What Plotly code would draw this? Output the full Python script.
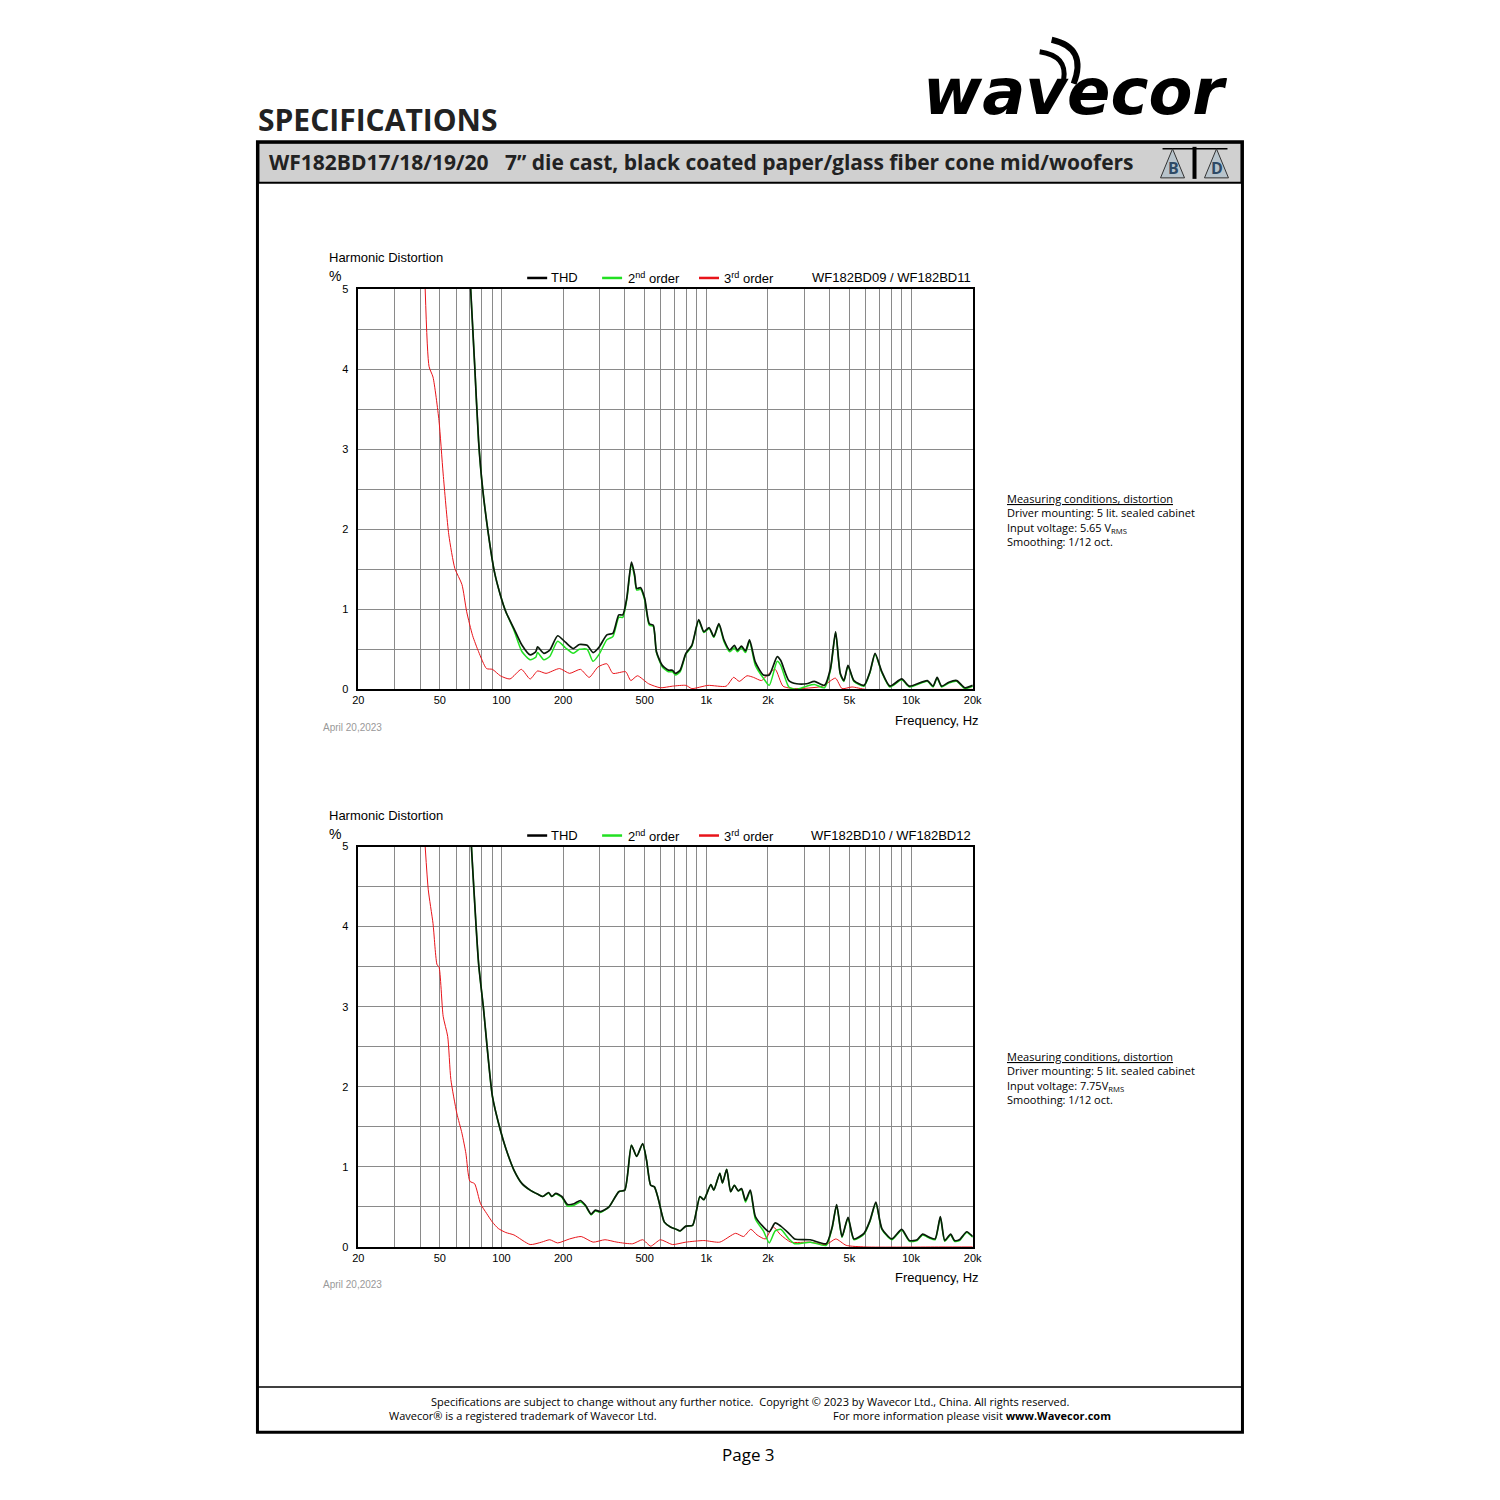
import plotly.graph_objects as go

# ---- top chart (WF182BD09 / WF182BD11, 5.65 Vrms) ----
f_thd1 = [70.7, 73.9, 77.3, 80.8, 86.4, 92.3, 98.7, 105, 115, 126, 138, 147, 150, 161, 172, 188, 205, 224,
          240, 262, 280, 300, 327, 350, 374, 391, 409, 431, 447, 457, 478, 500, 527, 551, 571, 610, 653,
          683, 707, 745, 795, 850, 918, 973, 1033, 1088, 1152, 1219, 1302, 1371, 1420, 1486, 1555, 1626,
          1736, 1900, 2030, 2220, 2310, 2530, 2760, 3090, 3370, 3780, 4040, 4280, 4510, 4700, 4920, 5260,
          5890, 6300, 6670, 7200, 7880, 9000, 9820, 12000, 12800, 13400, 14100, 15300, 16700, 18300, 20000]
thd1 = [5.0, 4.07, 3.1, 2.52, 1.93, 1.47, 1.18, 0.97, 0.76, 0.55, 0.43, 0.47, 0.53, 0.45, 0.49, 0.67, 0.59, 0.51,
        0.56, 0.55, 0.46, 0.53, 0.68, 0.70, 0.93, 0.93, 1.14, 1.59, 1.43, 1.26, 1.27, 1.14, 0.82, 0.80, 0.47, 0.30, 0.24,
        0.24, 0.20, 0.24, 0.45, 0.55, 0.87, 0.72, 0.77, 0.66, 0.82, 0.62, 0.49, 0.55, 0.49, 0.54, 0.48, 0.62,
        0.34, 0.18, 0.18, 0.41, 0.36, 0.11, 0.07, 0.07, 0.10, 0.05, 0.26, 0.72, 0.20, 0.11, 0.30, 0.11,
        0.05, 0.22, 0.45, 0.22, 0.04, 0.13, 0.04, 0.11, 0.04, 0.15, 0.04, 0.09, 0.11, 0.02, 0.05]
h2_1 = [5.0, 4.07, 3.1, 2.52, 1.93, 1.47, 1.18, 0.97, 0.74, 0.47, 0.37, 0.40, 0.46, 0.37, 0.41, 0.60, 0.52, 0.45,
        0.50, 0.50, 0.35, 0.44, 0.62, 0.66, 0.90, 0.90, 1.12, 1.57, 1.40, 1.24, 1.25, 1.12, 0.80, 0.79, 0.46, 0.28, 0.22,
        0.22, 0.18, 0.22, 0.44, 0.54, 0.86, 0.71, 0.76, 0.65, 0.81, 0.60, 0.47, 0.52, 0.47, 0.52, 0.46, 0.60,
        0.30, 0.14, 0.05, 0.35, 0.30, 0.03, 0.00, 0.04, 0.06, 0.02, 0.24, 0.71, 0.19, 0.10, 0.29, 0.10,
        0.04, 0.21, 0.44, 0.21, 0.03, 0.12, 0.03, 0.10, 0.03, 0.14, 0.03, 0.08, 0.10, 0.01, 0.04]
f_h3_1 = [42.4, 44.3, 46.3, 49.5, 51.9, 55.3, 59.2, 64.1, 67.6, 72.3, 77.3, 84.5, 90.3, 98.7, 110, 125, 138, 150,
          165, 192, 215, 243, 268, 296, 327, 350, 404, 428, 461, 523, 597, 683, 795, 850, 1019, 1250, 1360,
          1450, 1580, 1700, 1860, 1990, 2170, 2370, 2700, 3700, 4270, 4600, 5150, 6000, 13400, 20000]
h3_1 = [5.0, 4.03, 3.90, 3.36, 2.69, 1.93, 1.51, 1.31, 0.97, 0.67, 0.47, 0.26, 0.25, 0.17, 0.13, 0.25, 0.13, 0.23,
        0.20, 0.26, 0.20, 0.25, 0.15, 0.28, 0.32, 0.20, 0.22, 0.11, 0.17, 0.07, 0.02, 0.04, 0.05, 0.01, 0.05, 0.04, 0.15,
        0.10, 0.17, 0.15, 0.11, 0.18, 0.25, 0.04, 0.01, 0.04, 0.14, 0.01, 0.03, 0.0, 0.0, 0.0]

# ---- bottom chart (WF182BD10 / WF182BD12, 7.75 Vrms) ----
f_thd2 = [71.3, 77.3, 81.5, 90.3, 98.7, 105, 115, 126, 138, 150, 159, 170, 176, 184, 197, 210, 226, 243, 257,
          274, 287, 304, 335, 374, 400, 431, 457, 489, 511, 535, 558, 583, 624, 668, 714, 745, 795, 858, 931,
          973, 1052, 1088, 1164, 1200, 1258, 1315, 1371, 1433, 1486, 1555, 1640, 1736, 1900, 2030, 2170, 2310,
          2530, 2700, 3220, 3850, 4120, 4330, 4600, 4920, 5260, 5890, 6300, 6730, 7200, 8050, 9000, 9820,
          10700, 11380, 12300, 13100, 13900, 14600, 15600, 16300, 17200, 18700, 20000]
thd2 = [5.0, 3.54, 3.0, 1.88, 1.46, 1.23, 0.96, 0.79, 0.71, 0.66, 0.63, 0.68, 0.63, 0.67, 0.63, 0.53, 0.54, 0.58, 0.52,
        0.41, 0.46, 0.44, 0.50, 0.69, 0.71, 1.27, 1.13, 1.29, 1.08, 0.77, 0.75, 0.60, 0.31, 0.25, 0.22, 0.20, 0.26, 0.27, 0.63,
        0.59, 0.78, 0.71, 0.92, 0.80, 0.97, 0.69, 0.77, 0.70, 0.73, 0.58, 0.71, 0.38, 0.25, 0.19, 0.30, 0.26,
        0.17, 0.10, 0.09, 0.04, 0.25, 0.53, 0.13, 0.37, 0.10, 0.17, 0.33, 0.56, 0.23, 0.10, 0.22, 0.08,
        0.09, 0.16, 0.12, 0.10, 0.38, 0.08, 0.16, 0.08, 0.09, 0.19, 0.13]
h2_2 = [5.0, 3.54, 3.0, 1.88, 1.46, 1.23, 0.96, 0.79, 0.71, 0.66, 0.63, 0.67, 0.63, 0.66, 0.62, 0.51, 0.52, 0.56, 0.51,
        0.40, 0.45, 0.43, 0.50, 0.69, 0.71, 1.27, 1.13, 1.29, 1.08, 0.77, 0.75, 0.60, 0.31, 0.25, 0.22, 0.20, 0.26, 0.27, 0.63,
        0.59, 0.78, 0.71, 0.92, 0.80, 0.97, 0.69, 0.77, 0.70, 0.72, 0.56, 0.70, 0.35, 0.20, 0.05, 0.20, 0.22,
        0.10, 0.04, 0.06, 0.02, 0.24, 0.52, 0.12, 0.36, 0.09, 0.16, 0.32, 0.55, 0.22, 0.09, 0.21, 0.07,
        0.08, 0.15, 0.11, 0.09, 0.37, 0.07, 0.15, 0.07, 0.08, 0.18, 0.12]
f_h3_2 = [42.4, 43.9, 46.3, 48.5, 49.5, 51.9, 54.6, 56.6, 60.5, 64.1, 67.0, 70.1, 73.9, 79.0, 84.5, 90.3, 96.5, 105,
          115, 138, 157, 172, 188, 215, 245, 280, 320, 366, 437, 489, 535, 597, 683, 795, 973, 1164, 1390, 1520,
          1650, 1770, 1940, 2120, 2310, 2590, 3220, 3850, 4290, 4820, 6000, 14000, 20000]
h3_2 = [5.0, 4.46, 4.04, 3.52, 3.50, 2.88, 2.63, 2.09, 1.67, 1.42, 1.17, 0.82, 0.79, 0.54, 0.42, 0.31, 0.23, 0.18,
        0.15, 0.03, 0.06, 0.09, 0.05, 0.10, 0.13, 0.06, 0.09, 0.06, 0.04, 0.09, 0.01, 0.09, 0.03, 0.06, 0.08, 0.06, 0.17, 0.13,
        0.22, 0.15, 0.10, 0.25, 0.15, 0.06, 0.06, 0.03, 0.10, 0.02, 0.0, 0.0, 0.0]

x_ticks = [20, 50, 100, 200, 500, 1000, 2000, 5000, 10000, 20000]
x_labels = ["20", "50", "100", "200", "500", "1k", "2k", "5k", "10k", "20k"]
x_minor = [30, 40, 60, 70, 80, 90, 300, 400, 600, 700, 800, 900, 3000, 4000, 6000, 7000, 8000, 9000]
y_ticks = [0, 1, 2, 3, 4, 5]

W = H = 1500
FONT = "Liberation Sans"
FONT_B = "Open Sans"

# the page shows up slightly shrunk and shifted in the screenshot; compensate
SX, OX, OY = 0.991, 13.3, 14.3


def px(x):
    return ((x - OX) / SX) / W


def py(y):
    return 1 - ((y - OY) / SX) / H


fig = go.Figure()
shapes = []
ann = []

charts = [
    (1, 289, 689, f_thd1, thd1, h2_1, f_h3_1, h3_1, "WF182BD09 / WF182BD11", "Input voltage: 5.65 V<sub>RMS</sub>"),
    (2, 846, 1246, f_thd2, thd2, h2_2, f_h3_2, h3_2, "WF182BD10 / WF182BD12", "Input voltage: 7.75V<sub>RMS</sub>"),
]
for i, top, bot, ft, t, h2, f3, h3, model, volt in charts:
    xa = "x" if i == 1 else "x2"
    ya = "y" if i == 1 else "y2"
    fig.add_trace(go.Scatter(x=f3, y=h3, mode="lines", line=dict(color="#e8141a", width=1, shape="spline", smoothing=0.6),
                             xaxis=xa, yaxis=ya, showlegend=False))
    fig.add_trace(go.Scatter(x=ft, y=h2, mode="lines", line=dict(color="#22e022", width=1.5, shape="spline", smoothing=0.6),
                             xaxis=xa, yaxis=ya, showlegend=False))
    fig.add_trace(go.Scatter(x=ft, y=t, mode="lines", line=dict(color="#0a1a0a", width=1.7, shape="spline", smoothing=0.6),
                             xaxis=xa, yaxis=ya, showlegend=False))
    dom_y = [py(bot), py(top)]
    xkey = "xaxis" if i == 1 else "xaxis2"
    ykey = "yaxis" if i == 1 else "yaxis2"
    fig.update_layout(**{
        xkey: dict(type="log", range=[1.30103, 4.30103], domain=[px(358), px(973)], anchor=ya,
                   tickvals=x_ticks, ticktext=x_labels, showgrid=True, gridcolor="#8a8a8a", gridwidth=1,
                   minor=dict(tickvals=x_minor, showgrid=True, gridcolor="#8a8a8a", gridwidth=1),
                   showline=True, linecolor="black", linewidth=1.5, mirror=True, ticks="",
                   tickfont=dict(family=FONT, size=11, color="black"), zeroline=False, fixedrange=True),
        ykey: dict(range=[0, 5], domain=dom_y, anchor=xa, tickvals=y_ticks, showgrid=True,
                   gridcolor="#8a8a8a", gridwidth=1, ticklabelstandoff=6,
                   minor=dict(dtick=0.5, showgrid=True, gridcolor="#8a8a8a", gridwidth=1),
                   showline=True, linecolor="black", linewidth=1.5, mirror=True, ticks="",
                   tickfont=dict(family=FONT, size=11, color="black"), zeroline=False, fixedrange=True),
    })
    ann += [
        dict(x=px(327), y=py(top - 31), text="Harmonic Distortion", xanchor="left", yanchor="middle",
             font=dict(family=FONT, size=13)),
        dict(x=px(327), y=py(top - 13), text="%", xanchor="left", yanchor="middle", font=dict(family=FONT, size=14)),
        dict(x=px(549), y=py(top - 11), text="THD", xanchor="left", yanchor="middle", font=dict(family=FONT, size=13)),
        dict(x=px(626), y=py(top - 11), text="2<sup>nd</sup> order", xanchor="left", yanchor="middle",
             font=dict(family=FONT, size=13)),
        dict(x=px(722), y=py(top - 11), text="3<sup>rd</sup> order", xanchor="left", yanchor="middle",
             font=dict(family=FONT, size=13)),
        dict(x=px(973), y=py(top - 11), text=model, xanchor="right", yanchor="middle",
             font=dict(family=FONT, size=13)),
        dict(x=px(981), y=py(bot + 31), text="Frequency, Hz", xanchor="right", yanchor="middle",
             font=dict(family=FONT, size=13)),
        dict(x=px(321), y=py(bot + 38), text="April 20,2023", xanchor="left", yanchor="middle",
             font=dict(family=FONT, size=10, color="#999999")),
        dict(x=px(1005), y=py(top + 200), xanchor="left", yanchor="top", align="left",
             text="<u>Measuring conditions, distortion</u><br>Driver mounting: 5 lit. sealed cabinet<br>"
                  + volt + "<br>Smoothing: 1/12 oct.",
             font=dict(family=FONT_B, size=11)),
    ]
    for x0, c in [(527, "#000000"), (602, "#22e022"), (699, "#e8141a")]:
        shapes.append(dict(type="line", xref="paper", yref="paper", x0=px(x0), x1=px(x0 + 20),
                           y0=py(top - 11), y1=py(top - 11), line=dict(color=c, width=2.5)))

# page frame
shapes += [
    dict(type="rect", xref="paper", yref="paper", x0=px(257), x1=px(1243), y0=py(1431), y1=py(142),
         line=dict(color="black", width=3)),
    dict(type="rect", xref="paper", yref="paper", x0=px(258), x1=px(1242), y0=py(183), y1=py(143),
         fillcolor="#d0d0d0", line=dict(color="black", width=2), layer="below"),
    dict(type="line", xref="paper", yref="paper", x0=px(257), x1=px(1243), y0=py(1386), y1=py(1386),
         line=dict(color="black", width=1.5)),
    # balance icon in header
    dict(type="line", xref="paper", yref="paper", x0=px(1195), x1=px(1195), y0=py(179), y1=py(147),
         line=dict(color="black", width=4)),
    dict(type="line", xref="paper", yref="paper", x0=px(1163), x1=px(1228), y0=py(149), y1=py(149),
         line=dict(color="black", width=1.5)),
    dict(type="path", xref="paper", yref="paper",
         path=f"M {px(1173)} {py(149)} L {px(1161)} {py(178)} L {px(1185)} {py(178)} Z",
         line=dict(color="#333", width=1), fillcolor="#b8c4cc"),
    dict(type="path", xref="paper", yref="paper",
         path=f"M {px(1217)} {py(149)} L {px(1205)} {py(178)} L {px(1229)} {py(178)} Z",
         line=dict(color="#333", width=1), fillcolor="#b8c4cc"),
    # wave arcs of the logo
    dict(type="path", xref="paper", yref="paper",
         path=f"M {px(1040)} {py(52)} Q {px(1068)} {py(56)} {px(1064)} {py(80)}",
         line=dict(color="black", width=5)),
    dict(type="path", xref="paper", yref="paper",
         path=f"M {px(1052)} {py(40)} Q {px(1088)} {py(48)} {px(1074)} {py(84)}",
         line=dict(color="black", width=6)),
]
ann += [
    dict(x=px(256), y=py(120), text="<b>SPECIFICATIONS</b>", xanchor="left", yanchor="middle",
         font=dict(family=FONT_B, size=30, color="#222")),
    dict(x=px(1075), y=py(92), text="<b><i>wavecor</i></b>", xanchor="center", yanchor="middle",
         font=dict(family="DejaVu Sans", size=64, color="black")),
    dict(x=px(267), y=py(162), text="<b>WF182BD17/18/19/20   7\u201d die cast, black coated paper/glass fiber cone mid/woofers</b>",
         xanchor="left", yanchor="middle", font=dict(family=FONT_B, size=21, color="#222")),
    dict(x=px(1174), y=py(168), text="<b>B</b>", xanchor="center", yanchor="middle",
         font=dict(family=FONT_B, size=16, color="#2e4a66")),
    dict(x=px(1218), y=py(168), text="<b>D</b>", xanchor="center", yanchor="middle",
         font=dict(family=FONT_B, size=16, color="#2e4a66")),
    dict(x=px(750), y=py(1400), text="Specifications are subject to change without any further notice.  Copyright \u00a9 2023 by Wavecor Ltd., China. All rights reserved.",
         xanchor="center", yanchor="middle", font=dict(family=FONT_B, size=11)),
    dict(x=px(387), y=py(1414), text="Wavecor\u00ae is a registered trademark of Wavecor Ltd.",
         xanchor="left", yanchor="middle", font=dict(family=FONT_B, size=11)),
    dict(x=px(1113), y=py(1414), text="For more information please visit <b>www.Wavecor.com</b>",
         xanchor="right", yanchor="middle", font=dict(family=FONT_B, size=11)),
    dict(x=px(749), y=py(1453), text="Page 3", xanchor="center", yanchor="middle",
         font=dict(family=FONT_B, size=17)),
]
for a in ann:
    a.update(xref="paper", yref="paper", showarrow=False)

fig.update_layout(width=W, height=H, margin=dict(l=0, r=0, t=0, b=0), paper_bgcolor="white",
                  plot_bgcolor="white", shapes=shapes, annotations=ann, showlegend=False,
                  font=dict(color="black", family=FONT))
fig.write_html("out.html")
